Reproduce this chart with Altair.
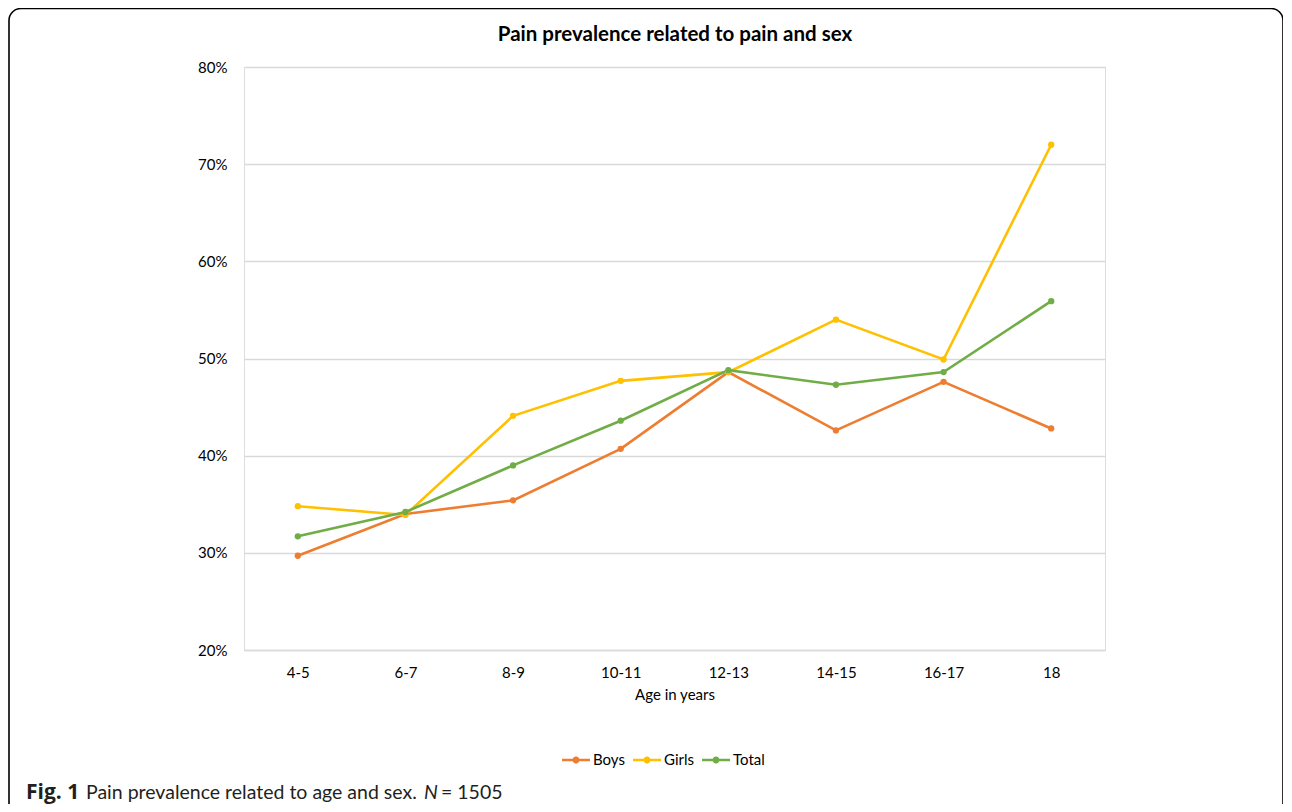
import altair as alt
import pandas as pd

ages = ["4-5", "6-7", "8-9", "10-11", "12-13", "14-15", "16-17", "18"]
boys = [29.7, 34.0, 35.4, 40.7, 48.6, 42.6, 47.6, 42.8]
girls = [34.8, 33.9, 44.1, 47.7, 48.6, 54.0, 49.9, 72.0]
total = [31.7, 34.2, 39.0, 43.6, 48.8, 47.3, 48.6, 55.9]
series = ["Boys", "Girls", "Total"]
colors = ["#ED7D31", "#FFC000", "#70AD47"]

rows = []
for name, vals in zip(series, [boys, girls, total]):
    for a, v in zip(ages, vals):
        rows.append({"age": a, "value": v, "series": name, "order": series.index(name)})
df = pd.DataFrame(rows)

W, H = 861, 583
FONT = "Lato"

legend_path = ("M-1,-0.09L1,-0.09L1,0.09L-1,0.09Z"
               "M0.25,0A0.25,0.25,0,1,1,-0.25,0A0.25,0.25,0,1,1,0.25,0Z")

color = alt.Color(
    "series:N",
    scale=alt.Scale(domain=series, range=colors),
    legend=alt.Legend(
        title=None, orient="none", direction="horizontal",
        legendX=318, legendY=679,
        symbolType=legend_path, symbolSize=784, symbolStrokeWidth=0,
        labelFont=FONT, labelFontSize=15, labelColor="#000000",
        columnPadding=8, labelOffset=3,
    ),
)

x = alt.X("age:N", sort=ages, scale=alt.Scale(paddingOuter=0.5),
          axis=alt.Axis(title="Age in years", labelAngle=0, ticks=False,
                        domainColor="#D9D9D9", domainWidth=1.3,
                        labelPadding=15, titlePadding=7,
                        labelFont=FONT, labelFontSize=15, labelColor="#000000",
                        titleFont=FONT, titleFontSize=15, titleFontWeight="normal",
                        titleColor="#000000", grid=False))
y = alt.Y("value:Q", scale=alt.Scale(domain=[20, 80], nice=False),
          axis=alt.Axis(title=None, values=[20, 30, 40, 50, 60, 70, 80],
                        labelExpr="datum.value + '%'", ticks=False, domain=False,
                        gridColor="#D9D9D9", gridWidth=1.3, labelPadding=17,
                        labelFont=FONT, labelFontSize=15, labelColor="#000000"))

lines = alt.Chart(df).mark_line(strokeWidth=2.6).encode(
    x=x, y=y, color=color, order="order:Q", detail="series:N")
points = alt.Chart(df).mark_point(filled=True, size=40, opacity=1).encode(
    x=x, y=y, color=alt.Color("series:N", scale=alt.Scale(domain=series, range=colors), legend=None))

one = pd.DataFrame({"k": [0]})
border = alt.Chart(one).mark_rect(fill=None, stroke="#000000", strokeWidth=1.6,
                                  cornerRadius=12).encode(
    x=alt.value(-235), x2=alt.value(1039), y=alt.value(-58.5), y2=alt.value(800))

title = alt.Chart(one).mark_text(text="Pain prevalence related to pain and sex",
                                 font=FONT, fontSize=20.5, fontWeight="bold",
                                 align="center", baseline="alphabetic", color="#000000").encode(
    x=alt.value(431), y=alt.value(-26))

CAP_Y = 732
CAP_COLOR = "#231F20"
cap1 = alt.Chart(one).mark_text(text="Fig. 1", font="Open Sans", fontSize=21, fontWeight="bold",
                                align="left", baseline="alphabetic", color=CAP_COLOR).encode(
    x=alt.value(-218), y=alt.value(CAP_Y))
cap2 = alt.Chart(one).mark_text(text="Pain prevalence related to age and sex.",
                                font=FONT, fontSize=19.5, align="left",
                                baseline="alphabetic", color=CAP_COLOR).encode(
    x=alt.value(-158), y=alt.value(CAP_Y))
cap3 = alt.Chart(one).mark_text(text="N", font=FONT, fontSize=19.5,
                                fontStyle="italic", align="left", baseline="alphabetic",
                                color=CAP_COLOR).encode(
    x=alt.value(180), y=alt.value(CAP_Y))
cap4 = alt.Chart(one).mark_text(text="= 1505", font=FONT, fontSize=19.5,
                                align="left", baseline="alphabetic", color=CAP_COLOR).encode(
    x=alt.value(197), y=alt.value(CAP_Y))

chart = alt.layer(lines, points, border, title, cap1, cap2, cap3, cap4).properties(
    width=W, height=H,
    autosize=alt.AutoSizeParams(type="none"),
    padding={"left": 236, "top": 59, "right": 178, "bottom": 154},
).configure_view(stroke=None).configure(background="white")

chart.save("out.html", embed_options={"renderer": "svg", "actions": False})
